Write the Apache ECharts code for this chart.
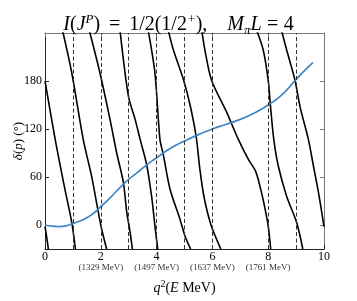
<!DOCTYPE html>
<html><head><meta charset="utf-8">
<script src="https://cdn.jsdelivr.net/npm/echarts@6/dist/echarts.min.js"></script>
<style>html,body{margin:0;padding:0;background:#fff}#c{width:357px;height:301px}</style>
</head><body><div id="c"></div>
<script>
// ---- data ----
const xTicks = [0, 2, 4, 6, 8, 10];
const subTickValues = [2, 4, 6, 8];
const subTickTexts = ['(1329 MeV)', '(1497 MeV)', '(1637 MeV)', '(1761 MeV)'];
const yTicks = [0, 60, 120, 180];
const dashedX = [1, 2, 3, 4, 5, 6, 8, 9];

const phaseX = [0, 0.25, 0.5, 0.75, 1.0, 1.25, 1.5, 1.75, 2.0, 2.25, 2.5, 2.75, 3.0, 3.25, 3.5, 3.75, 4.0, 4.5, 5.0, 5.5, 6.0, 6.5, 7.0, 7.5, 8.0, 8.5, 9.0, 9.3, 9.6];
const phaseY = [0, -1.5, -2, -1, 2, 5, 9, 15, 23, 31, 40, 49, 57, 64, 71, 78, 84, 96, 105, 113, 120, 126, 132, 140, 150, 163, 182, 193, 203];

const branch0 = [[0, -2], [0.06, -15], [0.12, -30]];
const branch1 = [[0, 180], [0.36, 108], [0.7, 47], [0.96, 3], [1.09, -30]];
const branch2 = [[0.63, 243], [0.96, 190], [1.37, 107], [1.67, 61], [1.89, 20], [2.03, -5], [2.21, -30]];
const branch3 = [[1.59, 243], [1.97, 190], [2.33, 132], [2.57, 90], [2.81, 53], [2.93, 16], [3.05, -9], [3.13, -30]];
const branch4 = [[2.69, 243], [2.99, 161], [3.23, 132], [3.41, 107], [3.64, 76], [3.82, 36], [3.94, -1], [4.04, -30]];
const branch5 = [[3.70, 243], [3.94, 190], [4.12, 107], [4.24, 88], [4.48, 45], [4.84, 7], [5.02, -14], [5.22, -30]];
const branch6 = [[4.42, 243], [4.6, 219], [4.97, 181], [5.2, 150], [5.42, 110], [5.55, 70], [5.7, 35], [5.95, 0], [6.3, -30]];
const branch7 = [[5.62, 243], [5.73, 219], [5.97, 181], [6.51, 141], [6.93, 107], [7.29, 82], [7.55, 67], [7.75, 42], [7.9, 18], [8.0, -1], [8.09, -30]];
const branch8 = [[7.59, 243], [7.82, 219], [8.0, 181], [8.07, 153], [8.2, 107], [8.36, 74], [8.66, 36], [9.02, 3], [9.24, -30]];
const branch9 = [[8.48, 243], [8.66, 219], [8.96, 181], [9.14, 148], [9.44, 107], [9.62, 74], [9.8, 41], [10, -2]];

// ---- chart ----
const FONT = 'Liberation Serif';
const branches = [branch0, branch1, branch2, branch3, branch4, branch5, branch6, branch7, branch8, branch9];
const chart = echarts.init(document.getElementById('c'), null, {renderer: 'canvas'});

const series = branches.map((b, i) => ({
  type: 'line', name: 'b' + i, data: b, showSymbol: false, symbol: 'none',
  smooth: 0.3, clip: true, silent: true,
  lineStyle: {color: '#000', width: 1.6}, xAxisIndex: 0, yAxisIndex: 0, z: 3
}));
series.push({
  type: 'line', name: 'free', data: [], xAxisIndex: 0, yAxisIndex: 0, silent: true,
  markLine: {
    symbol: 'none', silent: true, label: {show: false},
    lineStyle: {color: '#333', width: 1, type: [4, 2.5]},
    data: dashedX.map(x => ({xAxis: x}))
  }
});
series.push({
  type: 'line', name: 'phase', data: phaseX.map((x, i) => [x, phaseY[i]]),
  showSymbol: false, symbol: 'none', smooth: 0.5, silent: true,
  lineStyle: {color: '#3d85c6', width: 1.7}, xAxisIndex: 0, yAxisIndex: 0, z: 4
});

const subMap = {};
subTickValues.forEach((v, i) => subMap[v] = subTickTexts[i]);

const TS = 20;
chart.setOption({
  animation: false,
  backgroundColor: '#fff',
  title: {
    text: '{i|I}({i|J}{sp|P}){eq1|=}1/2(1/2{sp|+}),{gap| }{i|M}{sb|π}{i|L}{eq2|=}4',
    left: 'center', top: 8,
    textStyle: {
      fontFamily: FONT, fontSize: TS, fontWeight: 'normal', color: '#000', lineHeight: 24,
      rich: {
        i: {fontFamily: FONT, fontSize: TS, fontStyle: 'italic', color: '#000', lineHeight: 24},
        sp: {fontFamily: FONT, fontSize: 13, fontStyle: 'italic', color: '#000', lineHeight: 13, verticalAlign: 'top'},
        sb: {fontFamily: FONT, fontSize: 13, fontStyle: 'italic', color: '#000', lineHeight: 13, verticalAlign: 'bottom'},
        eq1: {fontFamily: FONT, fontSize: TS, color: '#000', lineHeight: 24, width: 29, align: 'center'},
        eq2: {fontFamily: FONT, fontSize: TS, color: '#000', lineHeight: 24, width: 22, align: 'center'},
        gap: {fontFamily: FONT, fontSize: TS, lineHeight: 24, width: 20}
      }
    }
  },
  grid: {left: 45, right: 33, top: 33, bottom: 52, containLabel: false, outerBoundsMode: 'none'},
  xAxis: [{
    type: 'value', min: 0, max: 10, interval: 2, position: 'bottom',
    name: '{i|q}{sp|2}({i|E} MeV)', nameLocation: 'middle', nameGap: 30,
    nameTextStyle: {
      fontFamily: FONT, fontSize: 14, color: '#000', lineHeight: 18,
      rich: {
        i: {fontFamily: FONT, fontSize: 14, fontStyle: 'italic', color: '#000', lineHeight: 18},
        sp: {fontFamily: FONT, fontSize: 10, color: '#000', lineHeight: 10, verticalAlign: 'top'}
      }
    },
    axisLine: {onZero: false, lineStyle: {color: '#222', width: 1}},
    axisTick: {inside: true, length: 4, lineStyle: {color: '#222'}},
    splitLine: {show: false},
    axisLabel: {
      margin: 2, color: '#000', fontFamily: FONT, fontSize: 12,
      formatter: v => subMap[v] ? '{a|' + v + '}\n{b|' + subMap[v] + '}' : '{a|' + v + '}',
      rich: {
        a: {fontFamily: FONT, fontSize: 12, color: '#000', lineHeight: 11},
        b: {fontFamily: FONT, fontSize: 9, color: '#333', lineHeight: 11}
      }
    }
  }, {
    type: 'value', min: 0, max: 10, interval: 2, position: 'top',
    axisLine: {onZero: false, lineStyle: {color: '#777', width: 1}},
    axisTick: {inside: true, length: 4, lineStyle: {color: '#777'}},
    axisLabel: {show: false}, splitLine: {show: false}
  }],
  yAxis: [{
    type: 'value', min: -30, max: 240, position: 'left',
    name: '{i|δ}({i|p}) (°)', nameLocation: 'middle', nameGap: 20, nameRotate: 90,
    nameMoveOverlap: false,
    nameTextStyle: {
      fontFamily: FONT, fontSize: 13, color: '#000',
      rich: {i: {fontFamily: FONT, fontSize: 13, fontStyle: 'italic', color: '#000'}}
    },
    axisLine: {onZero: false, lineStyle: {color: '#222', width: 1}},
    axisTick: {inside: true, length: 4, customValues: yTicks, lineStyle: {color: '#222'}},
    axisLabel: {customValues: yTicks, margin: 3, color: '#000', fontFamily: FONT, fontSize: 12},
    splitLine: {show: false}
  }, {
    type: 'value', min: -30, max: 240, position: 'right',
    axisLine: {onZero: false, lineStyle: {color: '#777', width: 1}},
    axisTick: {inside: true, length: 4, customValues: yTicks, lineStyle: {color: '#777'}},
    axisLabel: {show: false}, splitLine: {show: false}
  }],
  series: series
});
</script>
</body></html>
